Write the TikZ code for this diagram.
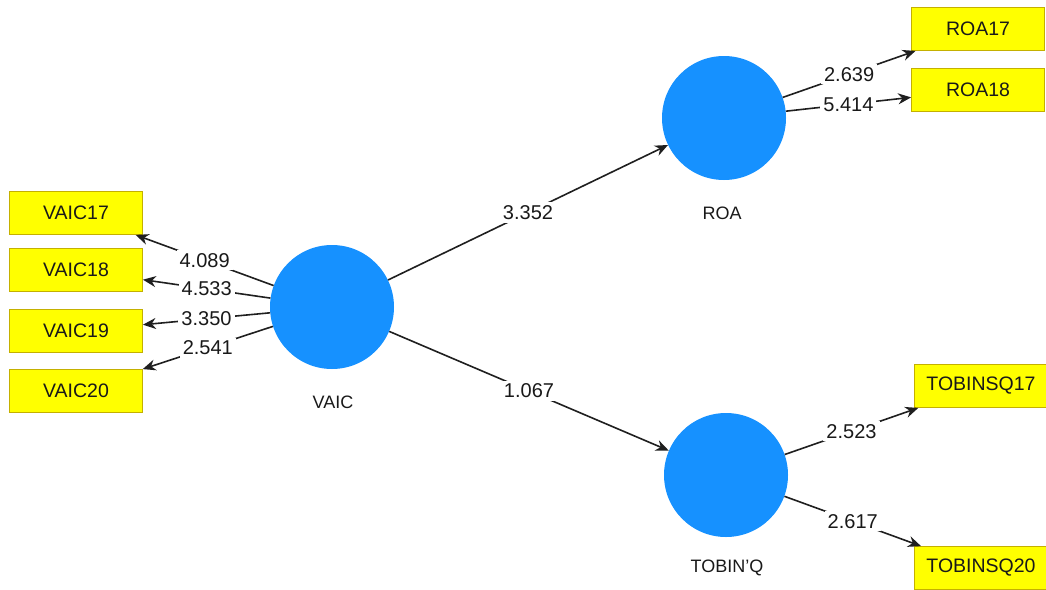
\documentclass[tikz,border=0pt]{standalone}
\usepackage{fontspec}
\setmainfont{Liberation Sans}
\usetikzlibrary{arrows.meta}
\definecolor{lvblue}{RGB}{22,145,255}
\definecolor{boxyellow}{RGB}{255,255,0}
\definecolor{boxedge}{RGB}{196,176,0}
\definecolor{txt}{RGB}{25,25,25}
\begin{document}
\begin{tikzpicture}[x=1pt,y=-1pt,
  latent/.style={circle,fill=lvblue,minimum size=124pt,inner sep=0pt},
  indic/.style={rectangle,fill=boxyellow,draw=boxedge,line width=0.8pt,minimum width=133pt,minimum height=43pt,inner sep=0pt,font=\fontsize{19.5}{22}\selectfont,text=txt},
  lvname/.style={font=\fontsize{18}{21}\selectfont,text=txt},
  wt/.style={fill=white,inner sep=3pt,font=\fontsize{20}{23}\selectfont,text=txt},
  conn/.style={line width=1.6pt,draw=black!88,-{Stealth[length=13pt,width=11pt]}}]
\useasboundingbox (0,0) rectangle (1046,589);
\node[latent] (vaic) at (332,307) {};
\node[latent] (roa) at (724,118) {};
\node[latent] (tob) at (726,475) {};
\node[lvname] (vaicl) at (333,402) {VAIC};
\node[lvname] (roal) at (722,213) {ROA};
\node[lvname] (tobl) at (727,568) {TOBIN'Q};
\node[indic] (v17) at (76,213) {VAIC17};
\node[indic] (v18) at (76,270) {VAIC18};
\node[indic] (v19) at (76,331) {VAIC19};
\node[indic] (v20) at (76,391) {VAIC20};
\node[indic] (r17) at (978,29) {ROA17};
\node[indic] (r18) at (978,90) {ROA18};
\node[indic] (t17) at (981,386) {TOBINSQ17};
\node[indic] (t20) at (981,568) {TOBINSQ20};
\draw[conn] (vaic) -- node[wt] {4.089} (v17);
\draw[conn] (vaic) -- node[wt] {4.533} (v18);
\draw[conn] (vaic) -- node[wt] {3.350} (v19);
\draw[conn] (vaic) -- node[wt] {2.541} (v20);
\draw[conn] (vaic) -- node[wt] {3.352} (roa);
\draw[conn] (vaic) -- node[wt] {1.067} (tob);
\draw[conn] (roa) -- node[wt] {2.639} (r17);
\draw[conn] (roa) -- node[wt] {5.414} (r18);
\draw[conn] (tob) -- node[wt] {2.523} (t17);
\draw[conn] (tob) -- node[wt] {2.617} (t20);
\end{tikzpicture}
\end{document}
